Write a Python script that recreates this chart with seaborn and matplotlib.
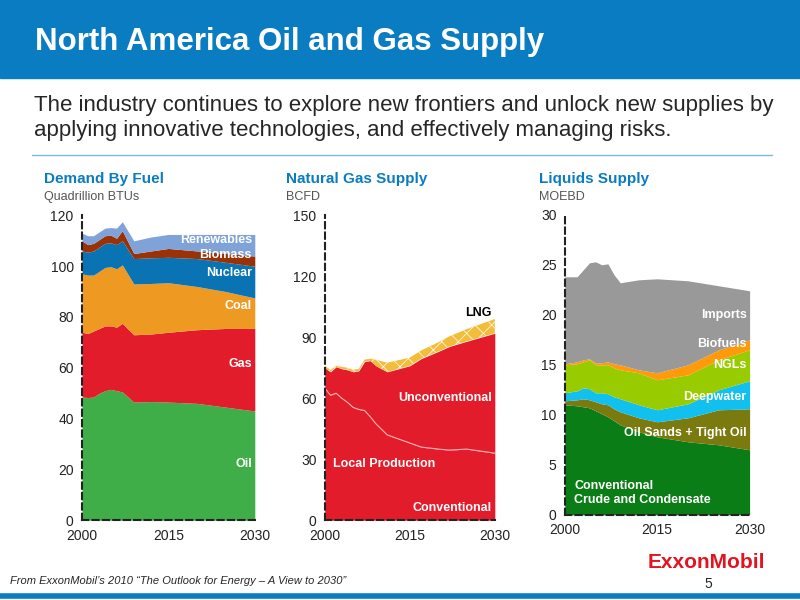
import matplotlib
matplotlib.use("Agg")
import matplotlib.pyplot as plt
import seaborn as sns
import numpy as np

sns.set_theme(style="white")
plt.rcParams['font.family'] = ['Liberation Sans', 'DejaVu Sans']
plt.rcParams['hatch.color'] = '#d0a030'
plt.rcParams['hatch.linewidth'] = 0.5

# Demand by fuel
years1 = [2000,2001,2002,2003,2004,2005,2006,2007,2009,2012,2015,2020,2025,2030]
oil = [48.5,48.3,48.5,50,51,51.5,51,50.5,46.5,46.7,46.5,46,44.5,43]
gas = [25.5,25.2,26,25.5,25.5,25,25,27,26.5,26.6,27.5,29,31,32.5]
coal = [23,23,22,22.5,23,23.3,23,23,20,19.9,19.5,17,14.5,12]
nuclear = [9,9,9.5,9.5,9.5,9.4,9.5,9.5,10,10.1,10,11,11.5,12.5]
biomass = [4,3,3,3,3,3,2.5,4,2,2.7,3.5,3,3.5,4]
renew = [3,3.5,3,3,3,3,4,3.5,5,5.5,5.5,6.5,7.5,8.5]

# Natural gas supply
years2 = [2000,2001,2002,2003,2004,2005,2006,2007,2008,2009,2011,2015,2017,2020,2022,2025,2030]
conventional = [65,61.5,62.5,60,58,55.5,54.5,54,51,47.5,42,38,36,35,34.5,35,33]
unconventional = [10,11.5,13,14.5,16,17.5,19,24,27.5,28.5,31,38,43.5,48,51,53,59]
lng = [1,1,0.5,1,1,1,1,1,1,3,4.5,4,4,4.5,5,6,7]

# Liquids supply
years3 = [2000,2002,2003,2004,2005,2006,2007,2008,2009,2012,2015,2020,2025,2030]
conv_crude = [11,10.9,10.8,10.7,10.4,10.1,9.8,9.4,9,8.3,7.8,7.3,7,6.5]
oil_sands = [0.4,0.6,0.8,0.8,0.9,1.0,1.2,1.2,1.3,1.4,1.5,2.4,3.5,4.1]
deepwater = [0.8,0.9,1.1,1.1,0.9,1.1,1.1,1.2,1.3,1.3,1.2,1.4,2.0,2.8]
ngls = [2.8,2.7,2.6,2.9,2.8,2.8,2.9,2.9,2.9,3.2,3.0,2.9,3.0,3.1]
biofuels = [0.1,0.2,0.2,0.1,0.2,0.2,0.3,0.4,0.5,0.3,0.7,1.0,1.0,1.0]
imports = [8.7,8.5,9,9.6,10.1,9.8,9.8,8.9,8.2,9,9.4,8.4,6.4,4.9]

xticks = [2000, 2015, 2030]
BLUE = '#0a7cc1'

fig = plt.figure(figsize=(8, 6), dpi=100)
fig.patches.append(plt.Rectangle((0, 1-78/600), 1, 78/600, transform=fig.transFigure, color=BLUE, zorder=0))
fig.text(0.044, 1-42/600, "North America Oil and Gas Supply", color='white', fontsize=22.5, fontweight='bold', va='center')
fig.text(0.043, 1-105/600, "The industry continues to explore new frontiers and unlock new supplies by", fontsize=16, va='center')
fig.text(0.043, 1-131/600, "applying innovative technologies, and effectively managing risks.", fontsize=16, va='center')
fig.add_artist(plt.Line2D([0.04, 0.965], [1-155/600]*2, color='#7fb8dd', lw=1, transform=fig.transFigure))
fig.add_artist(plt.Line2D([0, 1], [1-596/600]*2, color=BLUE, lw=4, transform=fig.transFigure))
fig.text(0.012, 1-581/600, "From ExxonMobil\u2019s 2010 \u201cThe Outlook for Energy \u2013 A View to 2030\u201d", fontsize=8, style='italic', va='center')
fig.text(0.88, 1-584/600, "5", fontsize=10, va='center')
fig.text(0.81, 1-563/600, "ExxonMobil", fontsize=15, fontweight='bold', color='#e3141f', va='center')

def style(ax, ylim, yticks):
    ax.set_xlim(2000, 2030)
    ax.set_ylim(*ylim)
    ax.set_xticks(xticks)
    ax.set_yticks(yticks)
    ax.tick_params(length=0, labelsize=10, pad=6, labelcolor='#222222')
    for s in ['top', 'right']:
        ax.spines[s].set_visible(False)
    for s in ['left', 'bottom']:
        ax.spines[s].set_linestyle((0, (3, 2)))
        ax.spines[s].set_color('#222222')
        ax.spines[s].set_linewidth(1.5)
        ax.spines[s].set_zorder(5)
    ax.set_facecolor('none')

def heading(x, y1, title, unit):
    fig.text(x, 1-y1/600, title, color=BLUE, fontsize=11, fontweight='bold', va='center')
    fig.text(x, 1-(y1+18)/600, unit, color='#555555', fontsize=9, va='center')

FS = 9

# Panel 1
ax1 = fig.add_axes([0.1025, 0.133, 0.216, 0.508])
ax1.stackplot(years1, oil, gas, coal, nuclear, biomass, renew,
              colors=['#3fae49', '#e31c2b', '#ee9a22', '#0a73b3', '#9a3208', '#7fa3d8'], lw=0)
style(ax1, (0, 120), range(0, 121, 20))
heading(0.055, 179, "Demand By Fuel", "Quadrillion BTUs")
for txt, y in [("Renewables", 110.5), ("Biomass", 104.5), ("Nuclear", 97.5), ("Coal", 84.5), ("Gas", 61.5), ("Oil", 22)]:
    ax1.text(2029.5, y, txt, color='white', fontsize=FS, fontweight='bold', ha='right', va='center')

# Panel 2
ax2 = fig.add_axes([0.406, 0.133, 0.2125, 0.508])
ax2.stackplot(years2, conventional, unconventional, colors=['#e31c2b', '#e31c2b'], lw=0)
base = np.array(conventional) + np.array(unconventional)
ax2.fill_between(years2, base, base + np.array(lng), facecolor='#f2bd3a', hatch='xx', lw=0)
sns.lineplot(x=years2, y=conventional, ax=ax2, color='#ffb0b4', lw=0.8)
style(ax2, (0, 150), range(0, 151, 30))
heading(0.358, 179, "Natural Gas Supply", "BCFD")
ax2.text(2029.5, 102, "LNG", color='black', fontsize=FS, fontweight='bold', ha='right', va='center')
ax2.text(2029.5, 60, "Unconventional", color='white', fontsize=FS, fontweight='bold', ha='right', va='center')
ax2.text(2001.5, 27.5, "Local Production", color='white', fontsize=FS, fontweight='bold', ha='left', va='center')
ax2.text(2029.5, 6, "Conventional", color='white', fontsize=FS, fontweight='bold', ha='right', va='center')

# Panel 3
ax3 = fig.add_axes([0.706, 0.142, 0.231, 0.500])
ax3.stackplot(years3, conv_crude, oil_sands, deepwater, ngls, biofuels, imports,
              colors=['#0b7d16', '#7a7a0e', '#12c0f0', '#99cc00', '#ff9a0a', '#999999'], lw=0)
style(ax3, (0, 30), range(0, 31, 5))
heading(0.674, 179, "Liquids Supply", "MOEBD")
for txt, y in [("Imports", 20), ("Biofuels", 17.1), ("NGLs", 15), ("Deepwater", 11.8), ("Oil Sands + Tight Oil", 8.2)]:
    ax3.text(2029.5, y, txt, color='white', fontsize=FS, fontweight='bold', ha='right', va='center')
ax3.text(2001.5, 2.2, "Conventional\nCrude and Condensate", color='white', fontsize=FS, fontweight='bold', ha='left', va='center', linespacing=1.2)

fig.savefig("out.png", dpi=100)
